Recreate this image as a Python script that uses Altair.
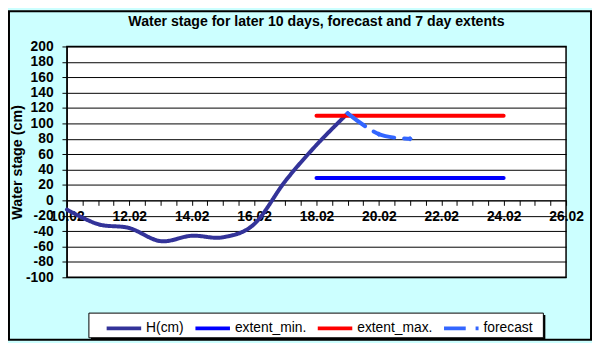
import altair as alt
import pandas as pd

# ---- data ----
days_h = [10, 11, 12, 13, 14, 15, 16, 17, 18, 19]
h_cm = [-12, -31, -36, -53, -46, -48, -31, 25, 72, 113]
extent_days = [18, 24]
extent_min = [29, 29]
extent_max = [110, 110]
forecast_days = [19, 20, 21]
forecast_vals = [113, 86, 80]

series_names = ["H(cm)", "extent_min.", "extent_max.", "forecast"]
series_colors = ["#333399", "#0000FF", "#FF0000", "#3366FF"]
series_widths = [4, 4, 4, 2.5]
series_dashes = [[1, 0], [1, 0], [1, 0], [22, 10]]

y_ticks = list(range(-100, 201, 20))
x_tick_days = [10 + 0.5 * i for i in range(33)]
x_label_days = [10, 12, 14, 16, 18, 20, 22, 24, 26]
x_labels = ["10.02", "12.02", "14.02", "16.02", "18.02", "20.02", "22.02", "24.02", "26.02"]

title_text = "Water stage for later 10 days, forecast and 7 day  extents"
y_title = "Water stage (cm)"

# ---- table ----
rows = []
for d, v in zip(days_h, h_cm):
    rows.append({"series": "H(cm)", "day": d, "value": v})
for d, v in zip(extent_days, extent_min):
    rows.append({"series": "extent_min.", "day": d, "value": v})
for d, v in zip(extent_days, extent_max):
    rows.append({"series": "extent_max.", "day": d, "value": v})
for d, v in zip(forecast_days, forecast_vals):
    rows.append({"series": "forecast", "day": d, "value": v})
df = pd.DataFrame(rows)

W, H = 506, 234
PL, PT = 59.7, 36.7
PR = 592 - W - PL
PB = 335 - H - PT
FONT = "Liberation Sans, Arial"

label_expr = " : ".join(f"datum.value == {d} ? '{l}'" for d, l in zip(x_label_days, x_labels)) + " : ''"

x_enc = alt.X(
    "day:Q",
    scale=alt.Scale(domain=[10, 26], nice=False, zero=False),
    axis=alt.Axis(
        values=x_tick_days, tickCount=len(x_tick_days), labelExpr=label_expr,
        title=None, grid=False, offset=-H / 3, tickSize=5, tickColor="black",
        domainColor="black", domainWidth=1, labelFont=FONT, labelFontSize=14,
        labelFontWeight="bold", labelColor="black", labelPadding=4,
        labelFlush=False, labelOverlap=False, labelBound=False,
    ),
)
y_enc = alt.Y(
    "value:Q",
    scale=alt.Scale(domain=[-100, 200], nice=False, zero=False),
    axis=alt.Axis(
        values=y_ticks, tickCount=len(y_ticks), labelExpr="'' + datum.value",
        title=y_title, grid=True, gridColor="black", gridWidth=1, gridOpacity=1,
        tickSize=5, tickColor="black", domainColor="black", labelOverlap=False,
        labelBound=False, labelFlush=False, labelFont=FONT, labelFontSize=14,
        labelFontWeight="bold", labelColor="black", labelPadding=9,
        titleFont=FONT, titleFontSize=14.5, titleFontWeight="bold",
        titleColor="black", titleX=-50, titleY=H / 2, titleAngle=270,
        titleAlign="center", titleBaseline="middle",
    ),
)

leg = alt.Legend(
    title=None, orient="none", direction="horizontal", legendX=38.3, legendY=266,
    symbolType="stroke", symbolSize=1225, labelFont=FONT, labelFontSize=14,
    labelColor="black", labelOffset=3, columnPadding=3, padding=0,
)

lines = alt.Chart(df).mark_line(interpolate="cardinal", strokeCap="round", strokeJoin="round").encode(
    x=x_enc,
    y=y_enc,
    color=alt.Color("series:N", scale=alt.Scale(domain=series_names, range=series_colors), legend=leg),
    strokeDash=alt.StrokeDash("series:N", scale=alt.Scale(domain=series_names, range=series_dashes), legend=leg),
    strokeWidth=alt.StrokeWidth("series:N", scale=alt.Scale(domain=series_names, range=series_widths), legend=leg),
    order="day:Q",
)

markers = alt.Chart(df).transform_filter(alt.datum.series == "forecast").mark_point(
    shape="diamond", filled=True, size=30, color="#3366FF", opacity=1
).encode(x="day:Q", y="value:Q")

one = pd.DataFrame({"k": [0]})
shadow = alt.Chart(one).mark_rect(color="black").encode(
    x=alt.value(24.3), x2=alt.value(485), y=alt.value(272.3), y2=alt.value(297.3)
)
legend_box = alt.Chart(one).mark_rect(fill="white", stroke="black", strokeWidth=1).encode(
    x=alt.value(22.3), x2=alt.value(483), y=alt.value(270.3), y2=alt.value(295.3)
)
frame = alt.Chart(one).mark_rect(fill=None, stroke="black", strokeWidth=2).encode(
    x=alt.value(-PL + 1), x2=alt.value(W + PR - 1), y=alt.value(-PT + 1), y2=alt.value(H + PB - 1)
)

chart = alt.layer(shadow, legend_box, lines, markers, frame).properties(
    width=W, height=H,
    title=alt.TitleParams(title_text, font=FONT, fontSize=14.3, fontWeight="bold",
                          color="black", anchor="middle", frame="group",
                          baseline="alphabetic", offset=11, dy=41),
    autosize=alt.AutoSizeParams(type="none"),
    padding={"left": PL, "top": PT, "right": PR, "bottom": PB},
    background="#CCFFFF",
).configure_view(fill="white", stroke="black", strokeWidth=1.5)

chart.save("out.html", embed_options={"renderer": "svg", "actions": False})
